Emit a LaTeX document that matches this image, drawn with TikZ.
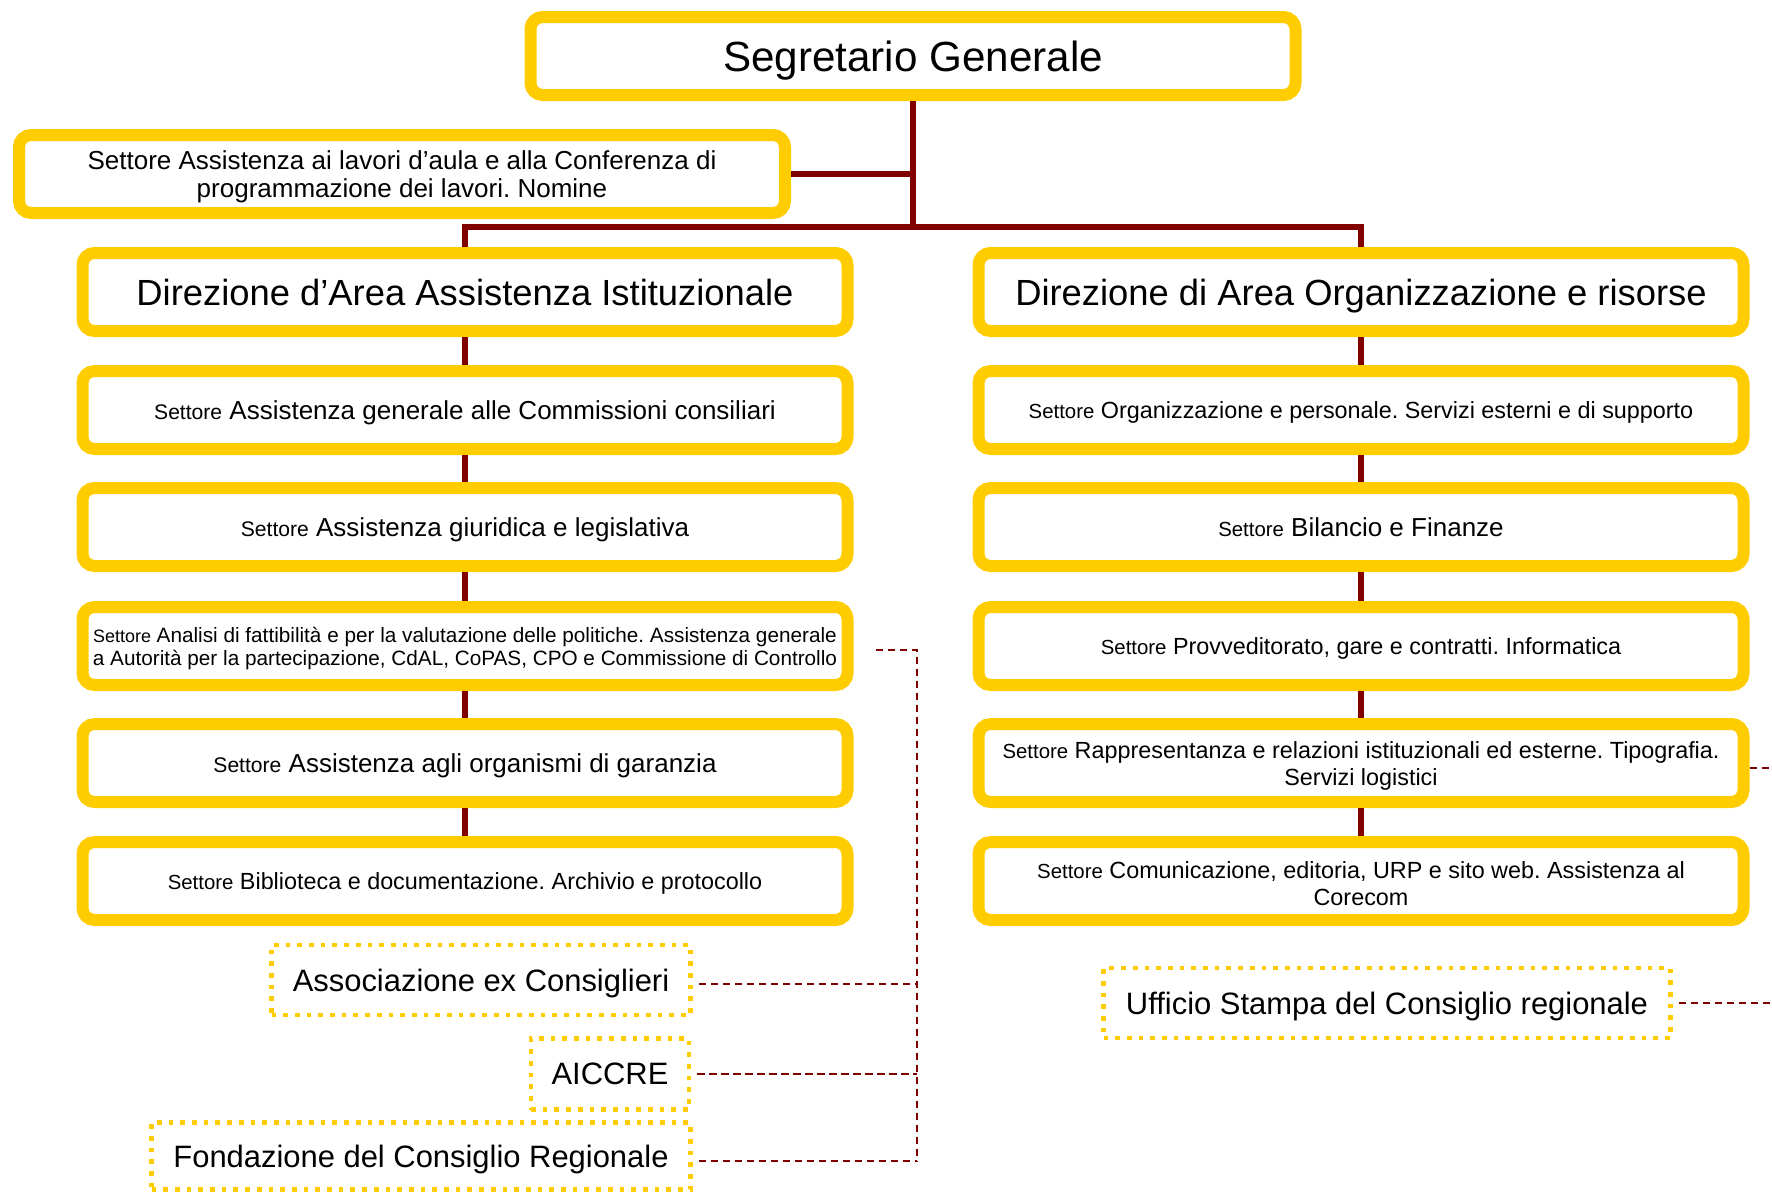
\documentclass[tikz,border=0pt]{standalone}
\usepackage{fontspec}
\setmainfont{Liberation Sans}
\frenchspacing
\definecolor{boxyellow}{HTML}{FFCC00}
\definecolor{linkred}{HTML}{800000}
\newcommand{\settore}[1]{{\fontsize{#1}{#1}\selectfont Settore}}
\newcommand{\primariga}{\rule{0pt}{0.97em}}

\begin{document}
\begin{tikzpicture}[
        x = 0.1mm, y = -0.1mm,
        ufficio/.style = {draw = boxyellow, line width = 1.2mm, rounded corners = 1.2mm, fill = white,
            minimum width = 76.5mm, minimum height = 7.8mm, inner sep = 0pt, align = center},
        riga/.style = {text depth = 0pt},
        ente/.style = {draw = boxyellow, line width = 0.47mm, dash pattern = on 0.47mm off 0.7mm,
            inner sep = 0pt, text depth = 0pt, font = \fontsize{8.8}{10}\selectfont},
        link/.style = {draw = linkred, line width = 0.6mm},
        dlink/.style = {draw = linkred, line width = 0.25mm, dash pattern = on 0.73mm off 0.47mm},
        rowbig/.style = {font = \fontsize{7.4}{8}\selectfont},
        rowsmall/.style = {font = \fontsize{6.65}{7.7}\selectfont}
    ]
        \useasboundingbox (0,0) rectangle (1772,1194);

        \node[ufficio, riga, font = \fontsize{12}{14}\selectfont] (sg) at (913,56) {Segretario Generale};
        \node[ufficio, rowbig, minimum width = 76.6mm] (aula) at (402,174)
            {\primariga Settore Assistenza ai lavori d’aula e alla Conferenza di\\programmazione dei lavori. Nomine};

        \node[ufficio, riga, font = \fontsize{10.35}{12}\selectfont] (dirL) at (465,292) {Direzione d’Area Assistenza Istituzionale};
        \node[ufficio, riga, font = \fontsize{10.35}{12}\selectfont] (dirR) at (1361,292) {Direzione di Area Organizzazione e risorse};

        % colonna sinistra
        \node[ufficio, riga, rowbig] (r1L) at (465,410) {\settore{6} Assistenza generale alle Commissioni consiliari};
        \node[ufficio, riga, rowbig] (r2L) at (465,527) {\settore{6} Assistenza giuridica e legislativa};
        \node[ufficio, font = \fontsize{5.9}{6.6}\selectfont] (r3L) at (465,646)
            {\primariga\settore{5.1} Analisi di fattibilità e per la valutazione delle politiche. Assistenza generale\\
            a Autorità per la partecipazione, CdAL, CoPAS, CPO e Commissione di Controllo};
        \node[ufficio, riga, rowbig] (r4L) at (465,763) {\settore{6} Assistenza agli organismi di garanzia};
        \node[ufficio, riga, rowsmall] (r5L) at (465,881) {\settore{5.8} Biblioteca e documentazione. Archivio e protocollo};

        % colonna destra
        \node[ufficio, riga, rowsmall] (r1R) at (1361,410) {\settore{5.8} Organizzazione e personale. Servizi esterni e di supporto};
        \node[ufficio, riga, rowbig] (r2R) at (1361,527) {\settore{5.8} Bilancio e Finanze};
        \node[ufficio, riga, rowsmall] (r3R) at (1361,646) {\settore{5.8} Provveditorato, gare e contratti. Informatica};
        \node[ufficio, rowsmall] (r4R) at (1361,763)
            {\primariga\settore{5.8} Rappresentanza e relazioni istituzionali ed esterne. Tipografia.\\Servizi logistici};
        \node[ufficio, rowsmall] (r5R) at (1361,881)
            {\primariga\settore{5.8} Comunicazione, editoria, URP e sito web. Assistenza al\\Corecom};

        % enti collegati
        \node[ente, minimum width = 41.9mm, minimum height = 7mm] (assoc) at (481,980) {Associazione ex Consiglieri};
        \node[ente, minimum width = 15.8mm, minimum height = 7.1mm] (aiccre) at (610,1074) {AICCRE};
        \node[ente, minimum width = 53.9mm, minimum height = 6.7mm] (fond) at (421,1156) {Fondazione del Consiglio Regionale};
        \node[ente, minimum width = 56.7mm, minimum height = 7mm] (stampa) at (1387,1003) {Ufficio Stampa del Consiglio regionale};

        \coordinate (bar) at (913,227);
        \coordinate (bus) at (917,0);
        \coordinate (edgeR) at (1772,0);

        \draw[link] (sg) -- (bar);
        \draw[link] (aula) -- (aula -| sg);
        \draw[link] (dirL) |- (bar) -| (dirR);
        \draw[link] (dirL) -- (r1L) -- (r2L) -- (r3L) -- (r4L) -- (r5L);
        \draw[link] (dirR) -- (r1R) -- (r2R) -- (r3R) -- (r4R) -- (r5R);

        \draw[dlink] ([xshift = 2.2mm, yshift = -0.4mm]r3L.east) -| ([yshift = -0.5mm]bus |- fond);
        \draw[dlink] ([xshift = 0.6mm, yshift = -0.4mm]assoc.east) -- ([yshift = -0.4mm]assoc -| bus);
        \draw[dlink] ([xshift = 0.6mm]aiccre.east) -- (aiccre -| bus);
        \draw[dlink] ([xshift = 0.6mm, yshift = -0.5mm]fond.east) -- ([yshift = -0.5mm]fond -| bus);
        \draw[dlink] ([yshift = -0.5mm]r4R.east) -- ([yshift = -0.5mm]r4R -| edgeR);
        \draw[dlink] ([xshift = 0.6mm]stampa.east) -- (stampa -| edgeR);
    \end{tikzpicture}
\end{document}
